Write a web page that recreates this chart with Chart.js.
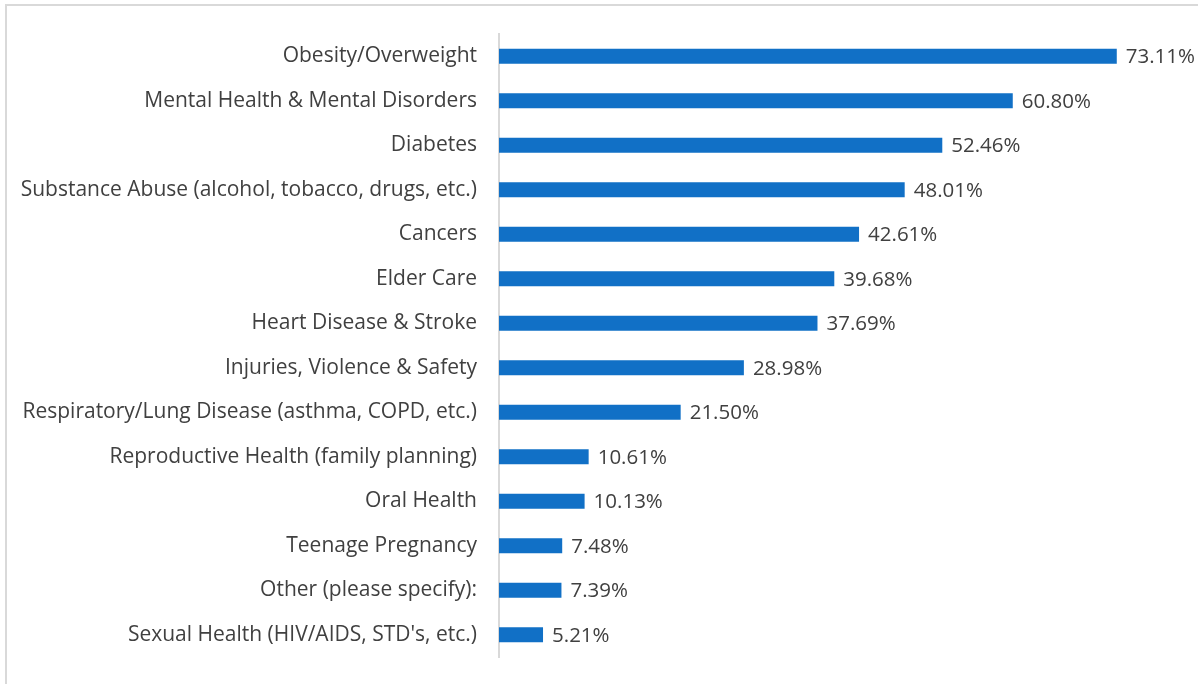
<!DOCTYPE html>
<html>
<head>
<meta charset="utf-8">
<script src="https://cdn.jsdelivr.net/npm/chart.js@4.4.1/dist/chart.umd.min.js"></script>
<style>
  html, body { margin: 0; padding: 0; background: #ffffff; overflow: hidden; }
  #frame { position: absolute; left: 5px; top: 4px; width: 1300px; height: 800px; border: 2px solid #d9d9d9; box-sizing: border-box; }
  #wrap { position: absolute; left: 0; top: 0; width: 1198px; height: 684px; }
</style>
</head>
<body>
<div id="frame"></div>
<div id="wrap"><canvas id="c" width="1198" height="684"></canvas></div>
<script>
const categories = [
  "Obesity/Overweight",
  "Mental Health & Mental Disorders",
  "Diabetes",
  "Substance Abuse (alcohol, tobacco, drugs, etc.)",
  "Cancers",
  "Elder Care",
  "Heart Disease & Stroke",
  "Injuries, Violence & Safety",
  "Respiratory/Lung Disease (asthma, COPD, etc.)",
  "Reproductive Health (family planning)",
  "Oral Health",
  "Teenage Pregnancy",
  "Other (please specify):",
  "Sexual Health (HIV/AIDS, STD's, etc.)"
];
const values = [73.11, 60.80, 52.46, 48.01, 42.61, 39.68, 37.69, 28.98, 21.50, 10.61, 10.13, 7.48, 7.39, 5.21];

const FONT = "'Open Sans', 'Segoe UI', sans-serif";
const TEXT = '#404040';

const dataLabels = {
  id: 'dataLabels',
  afterDatasetsDraw(chart) {
    const ctx = chart.ctx;
    const meta = chart.getDatasetMeta(0);
    ctx.save();
    ctx.font = '20.5px ' + FONT;
    ctx.fillStyle = TEXT;
    ctx.textAlign = 'left';
    ctx.textBaseline = 'middle';
    meta.data.forEach((bar, i) => {
      ctx.fillText(values[i].toFixed(2) + '%', bar.x + 9, bar.y + 1);
    });
    ctx.restore();
  }
};

new Chart(document.getElementById('c'), {
  type: 'bar',
  data: {
    labels: categories,
    datasets: [{
      data: values,
      backgroundColor: '#1170C6',
      borderWidth: 0,
      barPercentage: 0.34,
      categoryPercentage: 1.0
    }]
  },
  options: {
    indexAxis: 'y',
    responsive: false,
    animation: false,
    layout: { padding: { top: 34, bottom: 27, left: 0, right: 23 } },
    plugins: { legend: { display: false }, tooltip: { enabled: false } },
    scales: {
      x: {
        display: false,
        min: 0,
        max: 80
      },
      y: {
        afterFit(scale) { scale.width = 499; },
        grid: { display: false, drawTicks: true, tickLength: 16 },
        border: { display: true, color: '#d9d9d9', width: 2 },
        ticks: {
          color: TEXT,
          padding: 6,
          font: { family: FONT, size: 21 }
        }
      }
    }
  },
  plugins: [dataLabels]
});
</script>
</body>
</html>
